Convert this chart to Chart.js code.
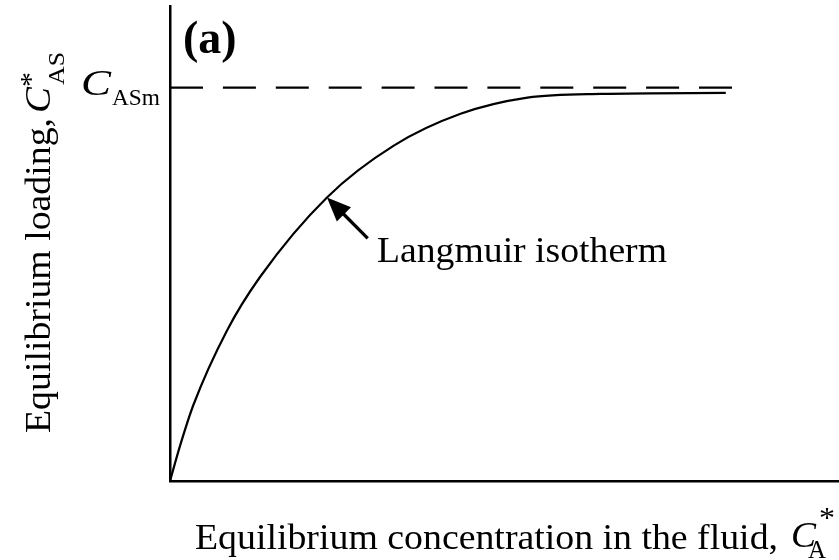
<!DOCTYPE html>
<html>
<head>
<meta charset="utf-8">
<script src="https://cdn.jsdelivr.net/npm/chart.js@4"></script>
<style>
html,body{margin:0;padding:0;background:#fff;}
#wrap{width:839px;height:560px;position:relative;}
</style>
</head>
<body>
<div id="wrap"><canvas id="c" width="839" height="560"></canvas></div>
<script>
// Equilibrium concentration (x) and loading (y) (relative units 0-100)
const concentration = [0, 1.5, 3.5, 8.5, 13.5, 23.5, 33.5, 43.5, 53.5, 64.5, 83.2];
const loading       = [0, 7.4, 16.0, 31.6, 43.0, 59.7, 70.6, 77.3, 80.7, 81.5, 81.7];
// Monolayer capacity C_ASm (dashed asymptote)
const capacityX = [0, 84.3];
const capacityY = [82.8, 82.8];
// Arrow pointing at the isotherm
const arrowTip  = {x: 23.5, y: 59.7};
const arrowTail = {x: 29.6, y: 51.1};

const SERIF = "'Liberation Serif', 'Times New Roman', serif";

function txt(ctx, s, x, y, font, width) {
  ctx.save();
  ctx.font = font;
  ctx.translate(x, y);
  if (width) {
    const w = ctx.measureText(s).width;
    ctx.scale(width / w, 1);
  }
  ctx.fillText(s, 0, 0);
  ctx.restore();
}

const textPlugin = {
  id: 'textPlugin',
  afterDatasetsDraw(chart) {
    const ctx = chart.ctx;
    const xs = chart.scales.x, ys = chart.scales.y;
    ctx.save();
    // arrow
    const tx = xs.getPixelForValue(arrowTip.x), ty = ys.getPixelForValue(arrowTip.y);
    const bx = xs.getPixelForValue(arrowTail.x), by = ys.getPixelForValue(arrowTail.y);
    const ang = Math.atan2(ty - by, tx - bx);
    const hl = 24, hw = 10;
    ctx.strokeStyle = '#000'; ctx.fillStyle = '#000'; ctx.lineWidth = 3.2;
    ctx.beginPath();
    ctx.moveTo(bx, by);
    ctx.lineTo(tx - Math.cos(ang) * (hl - 2), ty - Math.sin(ang) * (hl - 2));
    ctx.stroke();
    ctx.beginPath();
    ctx.moveTo(tx, ty);
    ctx.lineTo(tx - hl * Math.cos(ang) + hw * Math.sin(ang), ty - hl * Math.sin(ang) - hw * Math.cos(ang));
    ctx.lineTo(tx - hl * Math.cos(ang) - hw * Math.sin(ang), ty - hl * Math.sin(ang) + hw * Math.cos(ang));
    ctx.closePath();
    ctx.fill();

    ctx.textBaseline = 'alphabetic';
    ctx.textAlign = 'left';
    // annotation
    txt(ctx, 'Langmuir isotherm', 377, 262, '36px ' + SERIF, 290);
    // panel label
    txt(ctx, '(a)', 183, 53, 'bold 46px ' + SERIF);
    // C_ASm
    txt(ctx, 'C', 81, 95, 'italic 36px ' + SERIF, 30);
    txt(ctx, 'ASm', 112, 105, '23px ' + SERIF, 48);
    // x axis title
    txt(ctx, 'Equilibrium concentration in the fluid,', 195, 549, '36px ' + SERIF, 583);
    txt(ctx, 'C', 791, 547, 'italic 36px ' + SERIF, 25);
    txt(ctx, 'A', 808, 558, '26px ' + SERIF, 18);
    txt(ctx, '*', 819, 527, '30px ' + SERIF, 16);
    // y axis title (rotated)
    ctx.translate(50, 433);
    ctx.rotate(-Math.PI / 2);
    txt(ctx, 'Equilibrium loading,', 0, 0, '36px ' + SERIF, 315);
    txt(ctx, 'C', 320, 0, 'italic 36px ' + SERIF, 26);
    txt(ctx, 'AS', 348, 14, '24px ' + SERIF, 33);
    txt(ctx, '*', 346, -10, '30px ' + SERIF, 15);
    ctx.restore();
  }
};

new Chart(document.getElementById('c'), {
  type: 'line',
  data: {
    datasets: [
      {
        label: 'Langmuir isotherm',
        data: concentration.map((x, i) => ({x: x, y: loading[i]})),
        borderColor: '#000', borderWidth: 2.2, pointRadius: 0,
        cubicInterpolationMode: 'monotone', fill: false
      },
      {
        label: 'C_ASm',
        data: capacityX.map((x, i) => ({x: x, y: capacityY[i]})),
        borderColor: '#000', borderWidth: 2.2, pointRadius: 0,
        borderDash: [33, 19.9], fill: false
      }
    ]
  },
  options: {
    responsive: false,
    devicePixelRatio: 1,
    animation: false,
    layout: {padding: {left: 170, top: 6, right: 1, bottom: 79}},
    plugins: {legend: {display: false}, tooltip: {enabled: false}, title: {display: false}},
    scales: {
      x: {
        type: 'linear', min: 0, max: 100,
        ticks: {display: false}, grid: {display: false, drawTicks: false},
        border: {display: true, color: '#000', width: 2.5}
      },
      y: {
        type: 'linear', min: 0, max: 100,
        ticks: {display: false}, grid: {display: false, drawTicks: false},
        border: {display: true, color: '#000', width: 2.5}
      }
    }
  },
  plugins: [textPlugin]
});
</script>
</body>
</html>
